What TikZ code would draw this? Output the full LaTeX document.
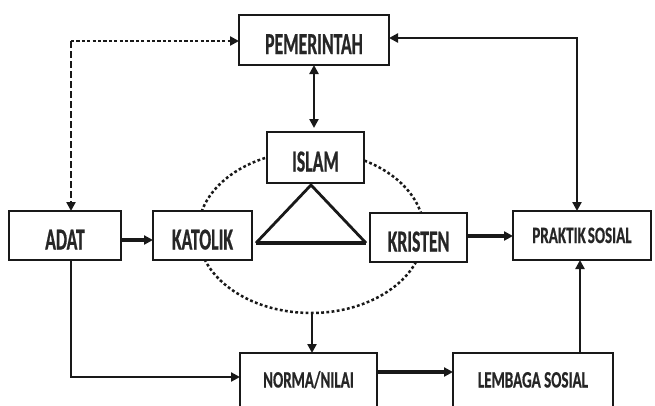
\documentclass[tikz,border=0pt]{standalone}
\usepackage{fontspec}
\setmainfont{Carlito}
\newfontfamily\bigf{Carlito}[FakeStretch=0.58,FakeBold=0.6]
\newfontfamily\smallf{Carlito}[FakeStretch=0.64,FakeBold=0.5]
\usetikzlibrary{arrows.meta}
\tikzset{
  box/.style={draw=black!90, line width=2.7pt, fill=white, inner sep=0pt, outer sep=0pt, text=black!85},
  bigtxt/.style={font=\bigf\bfseries\fontsize{30.5}{30.5}\selectfont, text height=28pt, text depth=0pt},
  smalltxt/.style={font=\smallf\bfseries\fontsize{23.5}{23.5}\selectfont, text height=15pt, text depth=0pt},
  conn/.style={line width=2.4pt, draw=black!90},
  heavy/.style={line width=4.4pt, draw=black!90},
  tip/.style={-{Triangle[length=9pt,width=9pt]}},
  bitip/.style={{Triangle[length=9pt,width=9pt]}-{Triangle[length=9pt,width=9pt]}},
  dotline/.style={line width=2.6pt, draw=black!90, dash pattern=on 3.2pt off 2.2pt},
  dashline/.style={line width=2.4pt, draw=black!90, dash pattern=on 7pt off 3pt},
  ringline/.style={line width=2.5pt, draw=black!90, dash pattern=on 2.8pt off 2.4pt},
}
\begin{document}
\begin{tikzpicture}[x=1pt,y=-1pt]
\useasboundingbox (0,0) rectangle (655,405);
\clip (0,0) rectangle (655,405);
% dotted ring
\draw[ringline] (311,232) ellipse [x radius=113, y radius=81];
% boxes
\node[box,bigtxt,minimum width=150pt,minimum height=50pt] (PEM) at (314,40) {PEMERINTAH};
\node[box,bigtxt,minimum width=97pt,minimum height=51pt] (ISLAM) at (315.5,157.5) {ISLAM};
\node[box,bigtxt,minimum width=112pt,minimum height=49pt] (ADAT) at (65,235.5) {ADAT};
\node[box,bigtxt,minimum width=99pt,minimum height=49pt] (KAT) at (202.5,235.5) {KATOLIK};
\node[box,bigtxt,minimum width=97pt,minimum height=49pt] (KRI) at (418.5,237.5) {KRISTEN};
\node[box,smalltxt,minimum width=138pt,minimum height=49pt] (PRA) at (582,235.5) {PRAKTIK\hspace{2pt}SOSIAL};
\node[box,smalltxt,minimum width=137pt,minimum height=54pt] (NOR) at (308.5,380) {NORMA/NILAI};
\node[box,smalltxt,minimum width=160pt,minimum height=54pt] (LEM) at (533,380) {LEMBAGA SOSIAL};
% triangle
\coordinate (apex) at (311,185);
\coordinate (tl) at (256,243);
\coordinate (tr) at (366,243);
\draw[line width=2.8pt, draw=black!90, line join=miter] (tl) -- (apex) -- (tr);
\draw[line width=4.4pt, draw=black!90] (tl) -- (tr);
% connectors
\coordinate (c1) at (71,41);
\draw[dotline,tip] (c1) -- (c1 -| PEM.west);
\draw[dashline,tip] (c1) -- (c1 |- ADAT.north);
\draw[conn,bitip,shorten >=4pt] (PEM.south) -- (PEM.south |- ISLAM.north);
\coordinate (c2) at (577,38);
\draw[conn,bitip] (c2 -| PEM.east) -- (c2) -- (c2 |- PRA.north);
\coordinate (a1) at (121,240);
\draw[heavy,tip] (a1) -- (a1 -| KAT.west);
\coordinate (a2) at (467,236);
\draw[heavy,tip] (a2) -- (a2 -| PRA.west);
\coordinate (ringbot) at (312,313);
\draw[conn,tip] (ringbot) -- (ringbot |- NOR.north);
\coordinate (c3) at (71,377);
\draw[conn,tip] (c3 |- ADAT.south) -- (c3) -- (c3 -| NOR.west);
\coordinate (a3) at (377,372);
\draw[heavy,tip] (a3 -| NOR.east) -- (a3 -| LEM.west);
\coordinate (a4) at (580,353);
\draw[conn,tip] (a4 |- LEM.north) -- (a4 |- PRA.south);
\end{tikzpicture}
\end{document}
